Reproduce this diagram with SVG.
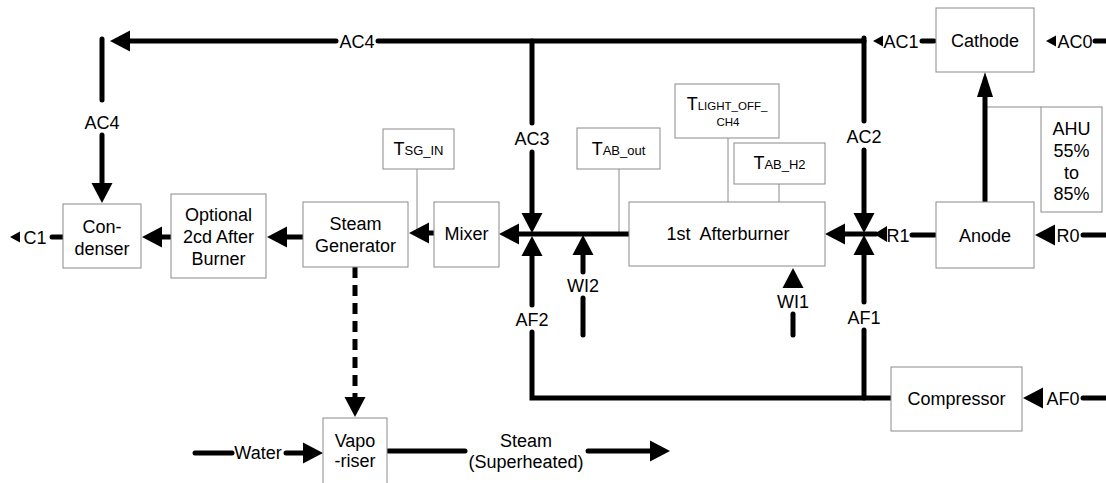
<svg xmlns="http://www.w3.org/2000/svg" xmlns:xlink="http://www.w3.org/1999/xlink" width="1106" height="483" viewBox="0 0 1106 483">
<style>
.box{fill:#fff;stroke:#8a8a8a;stroke-width:1}
.t{font-family:"Liberation Sans",Arial,Helvetica,sans-serif;font-size:18px;fill:#000;text-anchor:middle}
.s{font-size:13px}
.xs{font-size:11.5px}
.flow{stroke:#000;stroke-width:5;fill:none;stroke-linecap:round;stroke-linejoin:miter}
.dash{stroke-dasharray:11 7;stroke-linecap:butt}
.thin{stroke:#8a8a8a;stroke-width:1;fill:none}
</style>
<defs>
<polygon id="ah" points="0,0 -20,-10.5 -20,10.5" fill="#000"/>
<polygon id="am" points="0,0 -13,-8 -13,8" fill="#000"/>
<polygon id="as" points="0,0 -10,-5.5 -10,5.5" fill="#000"/>
<polygon id="aa" points="0,0 -25,-8 -25,8" fill="#000"/>
</defs>
<rect width="1106" height="483" fill="#fff"/>

<g id="connectors">
  <!-- thin sensor lines -->
  <line class="thin" x1="417" y1="169" x2="417" y2="232"/>
  <line class="thin" x1="619" y1="169" x2="619" y2="233"/>
  <line class="thin" x1="728" y1="138" x2="728" y2="202"/>
  <line class="thin" x1="779" y1="184" x2="779" y2="202"/>
  <line class="thin" x1="985" y1="107" x2="1041" y2="107"/>

  <!-- AC4 top -->
  <line class="flow" x1="864" y1="41" x2="378" y2="41"/>
  <line class="flow" x1="336" y1="41" x2="128" y2="41"/>
  <use xlink:href="#ah" transform="translate(110,41) rotate(180)"/>
  <text class="t" x="357" y="47.5">AC4</text>
  <!-- AC4 left -->
  <line class="flow" x1="102" y1="39" x2="102" y2="100"/>
  <line class="flow" x1="102" y1="135" x2="102" y2="185"/>
  <use xlink:href="#ah" transform="translate(102,203) rotate(90)"/>
  <text class="t" x="102" y="128.5">AC4</text>
  <!-- AC3 -->
  <line class="flow" x1="532" y1="41" x2="532" y2="123"/>
  <line class="flow" x1="532" y1="152" x2="532" y2="215"/>
  <use xlink:href="#ah" transform="translate(532,233) rotate(90)"/>
  <text class="t" x="532" y="144.5">AC3</text>
  <!-- AC2 -->
  <line class="flow" x1="864" y1="38" x2="864" y2="121"/>
  <line class="flow" x1="864" y1="150" x2="864" y2="215"/>
  <use xlink:href="#ah" transform="translate(864,233) rotate(90)"/>
  <text class="t" x="864" y="142.5">AC2</text>
  <!-- AC1 -->
  <line class="flow" x1="922" y1="41" x2="934" y2="41"/>
  <use xlink:href="#as" transform="translate(873,41) rotate(180)"/>
  <text class="t" x="901" y="47.5">AC1</text>
  <!-- AC0 -->
  <line class="flow" x1="1095" y1="41" x2="1108" y2="41"/>
  <use xlink:href="#as" transform="translate(1046,41) rotate(180)"/>
  <text class="t" x="1075" y="47.5">AC0</text>

  <!-- AF2 / bottom air line -->
  <polyline class="flow" points="891,398 532,398 532,332"/>
  <line class="flow" x1="532" y1="305" x2="532" y2="255"/>
  <use xlink:href="#ah" transform="translate(532,236) rotate(-90)"/>
  <text class="t" x="532" y="325.5">AF2</text>
  <!-- AF1 -->
  <line class="flow" x1="864" y1="398" x2="864" y2="330"/>
  <line class="flow" x1="864" y1="302" x2="864" y2="255"/>
  <use xlink:href="#ah" transform="translate(864,235) rotate(-90)"/>
  <text class="t" x="864" y="323.5">AF1</text>
  <!-- AF0 -->
  <line class="flow" x1="1083" y1="398" x2="1108" y2="398"/>
  <use xlink:href="#ah" transform="translate(1023,398) rotate(180)"/>
  <text class="t" x="1063" y="404.5">AF0</text>

  <!-- left junction to mixer -->
  <line class="flow" x1="517" y1="234" x2="630" y2="234"/>
  <use xlink:href="#ah" transform="translate(499,234) rotate(180)"/>
  <!-- mixer to steam generator -->
  <line class="flow" x1="434" y1="233" x2="427" y2="233"/>
  <use xlink:href="#ah" transform="translate(409,233) rotate(180)"/>
  <!-- steam generator to optional -->
  <line class="flow" x1="303" y1="237" x2="285" y2="237"/>
  <use xlink:href="#ah" transform="translate(267,237) rotate(180)"/>
  <!-- optional to condenser -->
  <line class="flow" x1="171" y1="237" x2="158" y2="237"/>
  <use xlink:href="#ah" transform="translate(142,237) rotate(180)"/>
  <!-- C1 -->
  <line class="flow" x1="52" y1="237" x2="63" y2="237"/>
  <use xlink:href="#as" transform="translate(10,237) rotate(180)"/>
  <text class="t" x="35" y="243.5">C1</text>

  <!-- right junction -->
  <line class="flow" x1="843" y1="234" x2="876" y2="234"/>
  <use xlink:href="#ah" transform="translate(825,234) rotate(180)"/>
  <use xlink:href="#am" transform="translate(874,234) rotate(180)"/>
  <!-- R1 -->
  <line class="flow" x1="912" y1="235" x2="935" y2="235"/>
  <text class="t" x="898" y="241.5">R1</text>
  <!-- R0 -->
  <line class="flow" x1="1083" y1="235" x2="1108" y2="235"/>
  <use xlink:href="#ah" transform="translate(1035,235) rotate(180)"/>
  <text class="t" x="1068" y="241.5">R0</text>

  <!-- anode to cathode -->
  <line class="flow" x1="985" y1="202" x2="985" y2="95"/>
  <use xlink:href="#aa" transform="translate(985,72) rotate(-90)"/>

  <!-- WI2 -->
  <line class="flow" x1="583" y1="252" x2="583" y2="272"/>
  <line class="flow" x1="583" y1="298" x2="583" y2="335"/>
  <use xlink:href="#ah" transform="translate(583,235) rotate(-90)"/>
  <text class="t" x="583" y="291.5">WI2</text>
  <!-- WI1 -->
  <line class="flow" x1="793" y1="314" x2="793" y2="335"/>
  <use xlink:href="#ah" transform="translate(793,268) rotate(-90)"/>
  <text class="t" x="793" y="307.5">WI1</text>

  <!-- dashed steam generator to vaporiser -->
  <line class="flow dash" x1="355" y1="267" x2="355" y2="399"/>
  <use xlink:href="#ah" transform="translate(355,417) rotate(90)"/>

  <!-- Water -->
  <line class="flow" x1="195" y1="453" x2="232" y2="453"/>
  <line class="flow" x1="286" y1="453" x2="304" y2="453"/>
  <use xlink:href="#ah" transform="translate(323,453)"/>
  <text class="t" x="258" y="459">Water</text>
  <!-- Steam out -->
  <line class="flow" x1="388" y1="451" x2="465" y2="451"/>
  <line class="flow" x1="588" y1="451" x2="652" y2="451"/>
  <use xlink:href="#ah" transform="translate(670,451)"/>
  <text class="t" x="526" y="447">Steam</text>
  <text class="t" x="526" y="468">(Superheated)</text>
</g>

<g id="condenser">
  <rect class="box" x="63" y="204" width="78" height="64"/>
  <text class="t" x="102" y="233">Con-</text>
  <text class="t" x="102" y="255">denser</text>
</g>
<g id="optional-afterburner">
  <rect class="box" x="171" y="194" width="95" height="84"/>
  <text class="t" x="218.5" y="221">Optional</text>
  <text class="t" x="218.5" y="243">2cd After</text>
  <text class="t" x="218.5" y="265">Burner</text>
</g>
<g id="steam-generator">
  <rect class="box" x="303" y="202" width="105" height="65"/>
  <text class="t" x="355.5" y="230">Steam</text>
  <text class="t" x="355.5" y="252">Generator</text>
</g>
<g id="mixer">
  <rect class="box" x="434" y="202" width="65" height="65"/>
  <text class="t" x="466.5" y="239.5">Mixer</text>
</g>
<g id="t-sg-in">
  <rect class="box" x="383" y="129" width="71" height="40"/>
  <text class="t" x="418.5" y="155">T<tspan class="s">SG_IN</tspan></text>
</g>
<g id="t-ab-out">
  <rect class="box" x="577" y="128" width="83" height="41"/>
  <text class="t" x="618.5" y="155">T<tspan class="s">AB_out</tspan></text>
</g>
<g id="t-light-off">
  <rect class="box" x="675" y="84" width="104" height="54"/>
  <text class="t" x="727" y="110">T<tspan class="xs">LIGHT_OFF_</tspan></text>
  <text class="t xs" x="728" y="126">CH4</text>
</g>
<g id="t-ab-h2">
  <rect class="box" x="734" y="143" width="91" height="41"/>
  <text class="t" x="779.5" y="169">T<tspan class="s">AB_H2</tspan></text>
</g>
<g id="afterburner1">
  <rect class="box" x="629" y="202" width="196" height="64"/>
  <text class="t" x="728" y="239.5" xml:space="preserve">1st  Afterburner</text>
</g>
<g id="cathode">
  <rect class="box" x="936" y="8" width="98" height="64"/>
  <text class="t" x="985" y="46.5">Cathode</text>
</g>
<g id="anode">
  <rect class="box" x="936" y="202" width="98" height="66"/>
  <text class="t" x="985" y="241.5">Anode</text>
</g>
<g id="ahu">
  <rect class="box" x="1041" y="107" width="61" height="105"/>
  <text class="t" x="1071.5" y="134.5">AHU</text>
  <text class="t" x="1071.5" y="156.5">55%</text>
  <text class="t" x="1071.5" y="178.5">to</text>
  <text class="t" x="1071.5" y="199.5">85%</text>
</g>
<g id="compressor">
  <rect class="box" x="891" y="367" width="131" height="64"/>
  <text class="t" x="956.5" y="404.5">Compressor</text>
</g>
<g id="vaporiser">
  <rect class="box" x="323" y="418" width="64" height="80"/>
  <text class="t" x="355" y="447">Vapo</text>
  <text class="t" x="355" y="467">-riser</text>
</g>
</svg>
